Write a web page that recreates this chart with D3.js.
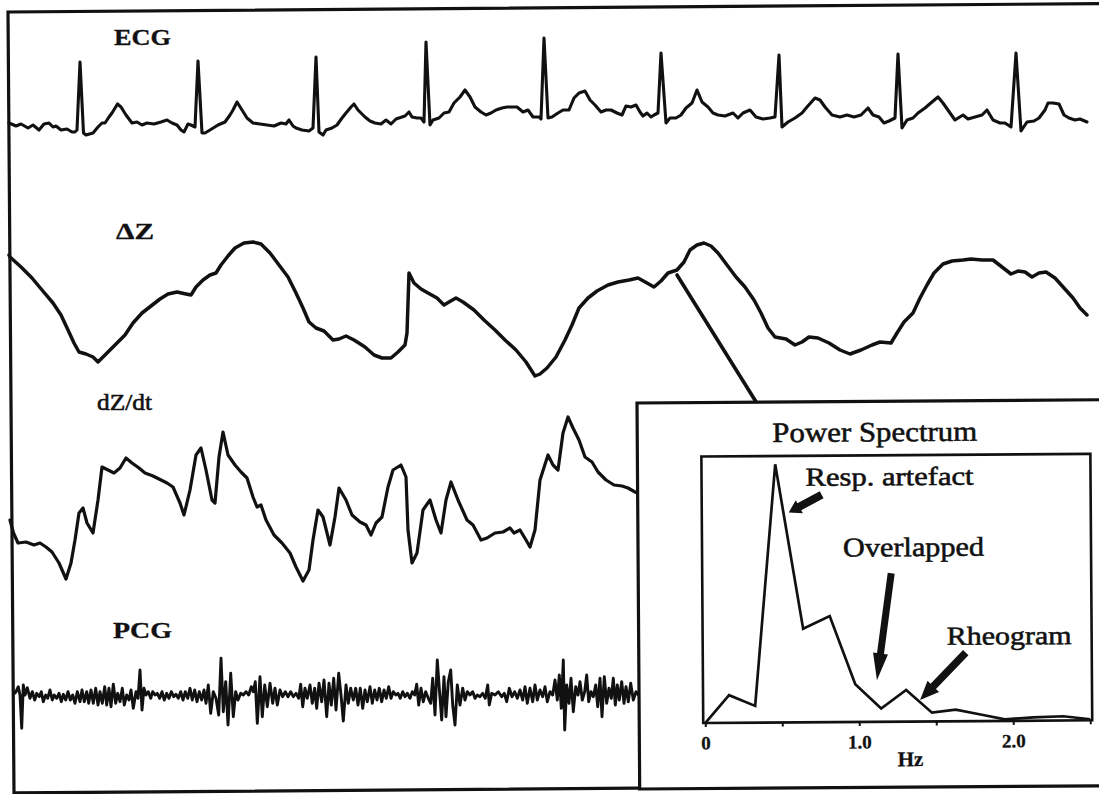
<!DOCTYPE html>
<html>
<head>
<meta charset="utf-8">
<script src="https://cdn.jsdelivr.net/npm/d3@7"></script>
<style>
  html, body { margin: 0; padding: 0; background: #fff; }
  svg { display: block; }
</style>
</head>
<body>
<svg id="fig" width="1099" height="794"></svg>
<script>
// ---- Recorded signals: [time (s), amplitude] ----
const ecg = [[0.09,0.02],[0.16,-0.01],[0.21,0.01],[0.28,-0.03],[0.33,0],[0.39,-0.05],[0.44,0.01],[0.49,0.02],[0.53,-0.02],[0.56,-0.01],[0.61,-0.05],[0.67,-0.04],[0.72,-0.07],[0.75,-0.07],[0.77,-0.05],[0.80,0.63],[0.835,-0.08],[0.86,-0.10],[0.93,-0.08],[0.98,-0.02],[1.02,0.02],[1.05,0.02],[1.09,0.08],[1.12,0.12],[1.175,0.21],[1.21,0.18],[1.26,0.10],[1.32,0.02],[1.37,0.03],[1.42,0],[1.47,0.02],[1.54,0.01],[1.61,0.03],[1.67,0.05],[1.72,0.02],[1.77,0],[1.81,-0.05],[1.84,-0.07],[1.88,0.01],[1.91,0],[1.95,-0.02],[1.98,0.64],[2.02,-0.08],[2.05,-0.08],[2.10,-0.05],[2.18,0],[2.25,0.03],[2.30,0.10],[2.33,0.15],[2.37,0.23],[2.42,0.15],[2.47,0.07],[2.53,0.02],[2.60,0.01],[2.67,0],[2.74,-0.01],[2.81,0.02],[2.86,0.01],[2.89,0.05],[2.93,-0.01],[2.96,-0.03],[3.02,-0.05],[3.09,-0.06],[3.13,-0.03],[3.16,0.68],[3.19,-0.07],[3.23,-0.10],[3.26,-0.05],[3.32,-0.03],[3.37,0],[3.42,0.07],[3.46,0.12],[3.51,0.18],[3.54,0.21],[3.58,0.15],[3.65,0.08],[3.70,0.04],[3.75,0.02],[3.81,0.01],[3.86,0.05],[3.91,0.01],[3.96,0.06],[4.02,0.08],[4.05,0.09],[4.09,0.13],[4.12,0.08],[4.17,0.07],[4.21,0.07],[4.24,0.03],[4.26,0.83],[4.30,0],[4.33,0.05],[4.39,0.07],[4.44,0.12],[4.49,0.13],[4.54,0.22],[4.60,0.28],[4.65,0.35],[4.70,0.28],[4.75,0.18],[4.81,0.13],[4.86,0.10],[4.91,0.12],[4.96,0.15],[5.02,0.17],[5.07,0.18],[5.12,0.18],[5.17,0.18],[5.23,0.13],[5.28,0.15],[5.33,0.08],[5.39,0.08],[5.41,0.06],[5.44,0.87],[5.48,0.07],[5.52,0.08],[5.58,0.12],[5.63,0.15],[5.69,0.15],[5.74,0.27],[5.79,0.32],[5.85,0.34],[5.90,0.25],[5.95,0.20],[6.01,0.13],[6.06,0.15],[6.11,0.15],[6.17,0.12],[6.22,0.10],[6.26,0.19],[6.31,0.18],[6.36,0.20],[6.40,0.13],[6.43,0.09],[6.47,0.12],[6.51,0.08],[6.54,0.10],[6.58,0.12],[6.61,0.72],[6.66,0.02],[6.70,0.07],[6.76,0.07],[6.81,0.10],[6.86,0.17],[6.92,0.22],[6.97,0.35],[7.02,0.23],[7.08,0.18],[7.13,0.12],[7.18,0.10],[7.25,0.09],[7.33,0.12],[7.38,0.07],[7.43,0.12],[7.50,0.15],[7.56,0.08],[7.63,0.06],[7.70,0.07],[7.75,0.08],[7.79,0.70],[7.82,-0.02],[7.88,0.03],[7.95,0.07],[8.02,0.12],[8.07,0.18],[8.15,0.27],[8.20,0.25],[8.25,0.18],[8.32,0.10],[8.40,0.08],[8.47,0.10],[8.54,0.08],[8.61,0.10],[8.68,0.17],[8.73,0.10],[8.79,0.08],[8.84,0.02],[8.89,0.04],[8.95,0.07],[8.98,0.71],[9.02,-0.03],[9.07,0.05],[9.13,0.07],[9.18,0.12],[9.25,0.17],[9.32,0.23],[9.38,0.28],[9.43,0.22],[9.50,0.12],[9.55,0.05],[9.63,0.10],[9.68,0.06],[9.75,0.08],[9.82,0.10],[9.87,0.15],[9.93,0.05],[10.00,0.02],[10.05,0.02],[10.11,-0.02],[10.16,0.72],[10.21,-0.06],[10.27,0.03],[10.34,0.04],[10.39,0.07],[10.45,0.15],[10.48,0.22],[10.53,0.22],[10.59,0.21],[10.64,0.10],[10.69,0.07],[10.75,0.05],[10.80,0.06],[10.87,0.03]];

const deltaZ = [[0.09,0.45],[0.10,0.43],[0.21,0.33],[0.32,0.22],[0.42,0.10],[0.53,-0.03],[0.61,-0.15],[0.68,-0.30],[0.74,-0.43],[0.79,-0.52],[0.86,-0.54],[0.93,-0.57],[0.98,-0.62],[1.03,-0.57],[1.10,-0.50],[1.17,-0.43],[1.25,-0.35],[1.33,-0.23],[1.42,-0.13],[1.51,-0.06],[1.60,0.01],[1.68,0.06],[1.77,0.08],[1.86,0.06],[1.91,0.05],[1.96,0.13],[2.03,0.20],[2.10,0.25],[2.16,0.27],[2.21,0.35],[2.28,0.44],[2.35,0.52],[2.44,0.57],[2.53,0.58],[2.61,0.56],[2.70,0.47],[2.79,0.35],[2.88,0.23],[2.96,0.07],[3.03,-0.08],[3.09,-0.22],[3.16,-0.28],[3.24,-0.31],[3.33,-0.40],[3.39,-0.39],[3.46,-0.36],[3.54,-0.40],[3.65,-0.47],[3.74,-0.55],[3.82,-0.58],[3.91,-0.58],[3.98,-0.52],[4.05,-0.45],[4.07,-0.33],[4.09,0.27],[4.14,0.17],[4.21,0.11],[4.28,0.07],[4.37,0.02],[4.44,-0.05],[4.49,-0.02],[4.56,0.02],[4.63,-0.02],[4.74,-0.10],[4.84,-0.20],[4.95,-0.30],[5.05,-0.40],[5.16,-0.50],[5.26,-0.62],[5.35,-0.76],[5.40,-0.74],[5.47,-0.68],[5.56,-0.57],[5.65,-0.40],[5.72,-0.25],[5.79,-0.08],[5.88,0.02],[5.97,0.09],[6.08,0.15],[6.18,0.18],[6.29,0.20],[6.38,0.22],[6.47,0.17],[6.54,0.13],[6.61,0.19],[6.68,0.27],[6.77,0.30],[6.84,0.38],[6.90,0.50],[6.97,0.55],[7.04,0.57],[7.11,0.54],[7.18,0.47],[7.27,0.35],[7.36,0.23],[7.45,0.13],[7.54,0],[7.61,-0.13],[7.68,-0.28],[7.75,-0.37],[7.86,-0.39],[7.95,-0.45],[8.02,-0.42],[8.09,-0.37],[8.18,-0.38],[8.29,-0.43],[8.40,-0.50],[8.50,-0.54],[8.61,-0.50],[8.72,-0.45],[8.80,-0.42],[8.91,-0.43],[8.97,-0.33],[9.04,-0.22],[9.13,-0.13],[9.20,0.02],[9.27,0.15],[9.34,0.27],[9.43,0.36],[9.52,0.39],[9.63,0.40],[9.71,0.41],[9.82,0.40],[9.93,0.40],[10.02,0.33],[10.11,0.26],[10.18,0.29],[10.25,0.28],[10.32,0.23],[10.39,0.27],[10.46,0.28],[10.55,0.22],[10.64,0.12],[10.73,0.02],[10.80,-0.08],[10.87,-0.15]];

const dZdt = [[0.10,-0.20],[0.135,-0.33],[0.18,-0.43],[0.26,-0.42],[0.34,-0.45],[0.40,-0.43],[0.46,-0.47],[0.52,-0.52],[0.59,-0.63],[0.66,-0.79],[0.71,-0.63],[0.75,-0.40],[0.79,-0.13],[0.83,-0.08],[0.87,-0.23],[0.93,-0.33],[0.98,0],[1.02,0.33],[1.08,0.30],[1.14,0.27],[1.20,0.32],[1.26,0.42],[1.32,0.37],[1.39,0.32],[1.45,0.27],[1.53,0.24],[1.59,0.21],[1.67,0.17],[1.73,0.13],[1.80,-0.03],[1.84,-0.15],[1.90,0.10],[1.96,0.45],[2.01,0.52],[2.06,0.30],[2.12,0],[2.15,-0.03],[2.19,0.43],[2.23,0.68],[2.28,0.45],[2.35,0.35],[2.41,0.28],[2.47,0.22],[2.53,0.03],[2.57,-0.07],[2.61,-0.05],[2.66,-0.20],[2.74,-0.35],[2.82,-0.43],[2.90,-0.53],[2.96,-0.67],[3.03,-0.81],[3.09,-0.70],[3.13,-0.40],[3.18,-0.10],[3.23,-0.17],[3.30,-0.45],[3.35,-0.17],[3.39,0.12],[3.46,0],[3.52,-0.15],[3.60,-0.22],[3.66,-0.25],[3.71,-0.35],[3.76,-0.23],[3.82,-0.17],[3.88,0.13],[3.93,0.30],[4.01,0.35],[4.06,0.23],[4.08,-0.30],[4.12,-0.63],[4.17,-0.53],[4.23,-0.10],[4.30,0],[4.36,-0.20],[4.41,-0.33],[4.46,0],[4.51,0.18],[4.58,0],[4.67,-0.20],[4.73,-0.25],[4.81,-0.40],[4.87,-0.38],[4.95,-0.33],[5.03,-0.32],[5.10,-0.28],[5.14,-0.33],[5.20,-0.30],[5.26,-0.40],[5.30,-0.47],[5.35,-0.30],[5.40,0.20],[5.48,0.45],[5.53,0.35],[5.58,0.30],[5.63,0.67],[5.68,0.83],[5.73,0.72],[5.79,0.60],[5.85,0.43],[5.92,0.38],[5.98,0.28],[6.06,0.20],[6.14,0.15],[6.22,0.14],[6.28,0.12],[6.35,0.08],[6.42,0.05]];

const pcg = [[0.15,0.2],[0.16,0.33],[0.183,0.83],[0.20,0],[0.217,-3.33],[0.233,1.0],[0.25,0],[0.273,0.73],[0.30,-0.33],[0.323,0.33],[0.347,-0.5],[0.367,0.17],[0.393,-0.17],[0.413,0.33],[0.433,-0.67],[0.457,0],[0.477,-0.33],[0.50,0.5],[0.523,-0.5],[0.543,0],[0.567,-0.33],[0.59,0.17],[0.613,-0.67],[0.633,0.07],[0.657,-0.5],[0.68,0.33],[0.703,-0.5],[0.727,0],[0.75,-0.83],[0.773,0.33],[0.80,-0.67],[0.82,0.5],[0.843,-0.67],[0.867,0.33],[0.887,-0.83],[0.91,0.5],[0.933,-0.83],[0.957,0.67],[0.98,-1.0],[1.00,0.33],[1.023,-0.83],[1.047,0.83],[1.067,-1.0],[1.09,0.67],[1.11,-1.17],[1.133,1.07],[1.157,-0.83],[1.177,0.17],[1.20,-0.67],[1.223,0.67],[1.243,-1.0],[1.267,0],[1.29,-0.5],[1.31,0.5],[1.333,-1.33],[1.36,0.33],[1.38,-0.33],[1.40,2.5],[1.42,-1.5],[1.44,0.67],[1.46,0],[1.483,0.33],[1.507,-0.33],[1.527,0.33],[1.55,0],[1.573,0.17],[1.597,-0.33],[1.62,0.33],[1.643,-0.5],[1.667,0.17],[1.69,-0.33],[1.713,0.33],[1.737,-0.17],[1.76,0.07],[1.783,-0.33],[1.807,0.33],[1.83,-0.5],[1.853,0.33],[1.877,-0.33],[1.90,0.67],[1.923,-0.5],[1.947,0.5],[1.97,-0.67],[1.993,0.33],[2.017,-0.5],[2.04,0.5],[2.06,-0.83],[2.083,1.0],[2.107,-1.83],[2.133,0.33],[2.16,-0.33],[2.187,-2.0],[2.21,3.67],[2.233,-1.67],[2.257,1.33],[2.28,-3.0],[2.307,2.17],[2.333,-2.17],[2.357,0.33],[2.38,-0.5],[2.407,0.17],[2.433,0],[2.46,0.33],[2.487,0],[2.513,0.83],[2.533,0.33],[2.553,1.33],[2.573,-2.83],[2.60,1.83],[2.623,-2.17],[2.647,1.0],[2.673,-1.17],[2.70,1.17],[2.727,-0.83],[2.75,0.67],[2.773,-1.0],[2.80,0.5],[2.827,-0.17],[2.853,0.33],[2.88,-0.17],[2.907,0.33],[2.933,-0.17],[2.96,0.17],[2.987,-0.33],[3.007,1.07],[3.027,-1.17],[3.05,0.67],[3.073,-0.33],[3.10,1.0],[3.123,-0.83],[3.147,0.67],[3.167,-1.33],[3.19,1.17],[3.217,-0.67],[3.24,1.5],[3.267,-2.17],[3.29,1.17],[3.313,-1.0],[3.337,1.67],[3.36,-1.5],[3.387,2.17],[3.41,0],[3.433,-2.6],[3.46,1.0],[3.483,-0.83],[3.507,0.67],[3.533,-0.5],[3.557,0.67],[3.58,-1.0],[3.603,0.67],[3.627,-1.33],[3.65,0.5],[3.673,-0.67],[3.70,0.83],[3.723,-0.83],[3.747,0.5],[3.77,-0.5],[3.793,0.67],[3.817,-0.67],[3.84,0.5],[3.863,-0.33],[3.887,0.83],[3.91,-0.33],[3.933,0.33],[3.957,0],[3.98,0.17],[4.003,-0.33],[4.027,0.33],[4.05,-0.17],[4.073,0.17],[4.10,-0.33],[4.123,0.33],[4.147,0],[4.167,1.07],[4.187,-1.0],[4.21,0.67],[4.233,-0.67],[4.257,0.33],[4.283,-0.33],[4.307,-0.83],[4.327,1.67],[4.35,-2.0],[4.373,3.5],[4.393,0.67],[4.417,-2.5],[4.44,1.83],[4.46,-2.17],[4.483,1.33],[4.507,2.5],[4.527,-1.0],[4.55,-3.0],[4.573,1.0],[4.60,-1.0],[4.627,0.67],[4.65,-0.5],[4.673,0.33],[4.70,0],[4.727,0.33],[4.75,-0.33],[4.773,0],[4.80,-0.17],[4.827,0.17],[4.853,-0.33],[4.877,1.0],[4.893,-1.0],[4.917,0.17],[4.95,0],[4.983,0.33],[5.017,-0.17],[5.043,0.17],[5.067,-0.67],[5.093,0.67],[5.12,-0.17],[5.147,0.33],[5.173,-0.33],[5.20,0.5],[5.227,-0.5],[5.25,0.83],[5.273,-0.83],[5.30,0.67],[5.327,-0.67],[5.35,1.0],[5.373,-0.5],[5.40,0.5],[5.427,-0.17],[5.45,0.83],[5.473,-0.67],[5.50,0.33],[5.527,0],[5.55,1.5],[5.573,-0.5],[5.593,2.0],[5.613,-1.33],[5.633,3.5],[5.647,-3.5],[5.667,1.0],[5.69,-0.83],[5.71,1.67],[5.733,-1.67],[5.757,0.83],[5.78,0],[5.80,1.33],[5.823,-0.5],[5.847,0.33],[5.867,2.0],[5.887,-0.67],[5.91,0.33],[5.933,-0.17],[5.957,1.0],[5.977,-1.17],[6.00,1.67],[6.02,-2.17],[6.043,1.83],[6.067,-0.83],[6.09,0.67],[6.113,-0.33],[6.133,1.67],[6.153,-1.0],[6.173,1.0],[6.193,-0.5],[6.217,1.33],[6.24,-0.83],[6.26,0.83],[6.283,-0.67],[6.307,1.17],[6.333,-0.5],[6.36,0.33],[6.383,0],[6.42,0.2]];

// ---- Power spectrum of the impedance signal ----
const spectrumHz    = [0, 0.156, 0.325, 0.466, 0.64, 0.813, 0.976, 1.143, 1.306, 1.473, 1.627, 1.805, 1.946, 2.13, 2.325, 2.5];
const spectrumPower = [0, 0.104, 0.063, 0.969, 0.351, 0.398, 0.142, 0.05, 0.119, 0.033, 0.044, 0.023, 0.006, 0.0125, 0.016, 0.004];
const hzTicks = [0, 0.5, 1.0, 1.5, 2.0, 2.5];
const hzTickLabels = ["0", "", "1.0", "", "2.0", ""];

const ink = "#111";
const serif = "'Liberation Serif', 'Times New Roman', Times, 'DejaVu Serif', serif";
const svg = d3.select("#fig");

// Shared time axis for the four stacked traces
const x = d3.scaleLinear().domain([0, 10.99]).range([0, 1099]);

const traces = [
  { data: ecg,    y: d3.scaleLinear().domain([0, 1]).range([125, 25]),  w: 3.1 },
  { data: deltaZ, y: d3.scaleLinear().domain([0, 1]).range([300, 200]), w: 3.5 },
  { data: dZdt,   y: d3.scaleLinear().domain([0, 1]).range([500, 400]), w: 3.2 },
  { data: pcg,    y: d3.scaleLinear().domain([0, 1]).range([695, 685]), w: 2.9 }
];

// Outer frame (the sheet sits very slightly tilted)
svg.append("g")
  .attr("transform", "rotate(-0.44 8 12)")
  .append("rect")
  .attr("x", 8).attr("y", 12).attr("width", 1110).attr("height", 781)
  .attr("fill", "none").attr("stroke", ink).attr("stroke-width", 3.2);

traces.forEach(tr => {
  const line = d3.line().x(d => x(d[0])).y(d => tr.y(d[1]));
  svg.append("path")
    .datum(tr.data)
    .attr("d", line)
    .attr("fill", "none")
    .attr("stroke", ink)
    .attr("stroke-width", tr.w)
    .attr("stroke-linejoin", "round")
    .attr("stroke-linecap", "round");
});

function label(parent, o) {
  const t = parent.append("text")
    .attr("x", o.x).attr("y", o.y)
    .attr("font-family", serif)
    .attr("font-size", o.size)
    .attr("font-weight", o.bold ? "bold" : "normal")
    .attr("fill", ink)
    .attr("stroke", ink)
    .attr("stroke-width", o.bold ? 0.3 : 0.55)
    .text(o.t);
  if (o.len) t.attr("textLength", o.len).attr("lengthAdjust", "spacingAndGlyphs");
  if (o.anchor) t.attr("text-anchor", o.anchor);
  return t;
}

// Trace names
[
  { t: "ECG",     x: 114, y: 45,  size: 24, bold: true,  len: 57 },
  { t: "\u0394Z", x: 116, y: 239, size: 24, bold: true,  len: 38 },
  { t: "dZ/dt",   x: 97,  y: 410, size: 23, bold: false, len: 55 },
  { t: "PCG",     x: 113, y: 638, size: 23, bold: true,  len: 59 }
].forEach(o => label(svg, o));

// Pointer from the impedance trace to the spectrum inset
svg.append("line")
  .attr("x1", 677).attr("y1", 275).attr("x2", 758).attr("y2", 405)
  .attr("stroke", ink).attr("stroke-width", 3.6).attr("stroke-linecap", "round");

// ---- Inset: power spectrum ----
const inset = svg.append("g").attr("transform", "rotate(-0.4 637 403)");
inset.append("rect")
  .attr("x", 637).attr("y", 403).attr("width", 480).attr("height", 386)
  .attr("fill", "#fff").attr("stroke", ink).attr("stroke-width", 3.2);

const fx = d3.scaleLinear().domain([0, 2.5]).range([703, 1088]);
const fy = d3.scaleLinear().domain([0, 1]).range([723.5, 457]);

inset.append("rect")
  .attr("x", 701).attr("y", 457).attr("width", 389).attr("height", 266.5)
  .attr("fill", "none").attr("stroke", ink).attr("stroke-width", 2.6);

const axis = d3.axisBottom(fx)
  .tickValues(hzTicks)
  .tickSize(4)
  .tickPadding(9)
  .tickFormat((d, i) => hzTickLabels[i]);
const axG = inset.append("g").attr("transform", `translate(0,${fy(0)})`).call(axis);
axG.attr("font-family", serif).attr("font-size", 19);
axG.select(".domain").remove();
axG.selectAll(".tick line").attr("stroke", ink).attr("stroke-width", 2);
axG.selectAll(".tick text")
  .attr("font-family", serif)
  .attr("font-size", 19).attr("font-weight", "bold").attr("fill", ink)
  .attr("stroke", ink).attr("stroke-width", 0.3);

label(inset, { t: "Hz", x: 908, y: 768, size: 21, bold: true, anchor: "middle" });

const spec = spectrumHz.map((f, i) => [f, spectrumPower[i]]);
inset.append("path")
  .datum(spec)
  .attr("d", d3.line().x(d => fx(d[0])).y(d => fy(d[1])))
  .attr("fill", "none").attr("stroke", ink).attr("stroke-width", 2.7)
  .attr("stroke-linejoin", "miter");

[
  { t: "Power Spectrum", x: 772, y: 443, size: 28, len: 205 },
  { t: "Resp. artefact", x: 805, y: 487, size: 26, len: 168 },
  { t: "Overlapped",     x: 842, y: 558, size: 27, len: 141 },
  { t: "Rheogram",       x: 945, y: 647, size: 26, len: 125 }
].forEach(o => label(inset, o));

// Block arrows pointing at the spectral features
function arrow(tail, tip, shaftW, headW, headL) {
  const dx = tip[0] - tail[0], dy = tip[1] - tail[1];
  const L = Math.hypot(dx, dy), ux = dx / L, uy = dy / L, nx = -uy, ny = ux;
  const nk = [tip[0] - ux * headL, tip[1] - uy * headL];
  const p = (b, s) => [b[0] + nx * s, b[1] + ny * s];
  return [p(tail, shaftW / 2), p(nk, shaftW / 2), p(nk, headW / 2), tip,
          p(nk, -headW / 2), p(nk, -shaftW / 2), p(tail, -shaftW / 2)];
}
const arrows = [
  arrow([821, 496], [788, 513.5], 8, 15, 12),
  arrow([890, 575], [875, 682], 7, 15, 27),
  arrow([964, 655], [918, 702], 7.5, 16, 19)
];
inset.selectAll("polygon.arrow").data(arrows).enter().append("polygon")
  .attr("class", "arrow")
  .attr("points", d => d.map(p => p.join(",")).join(" "))
  .attr("fill", ink);
</script>
</body>
</html>
